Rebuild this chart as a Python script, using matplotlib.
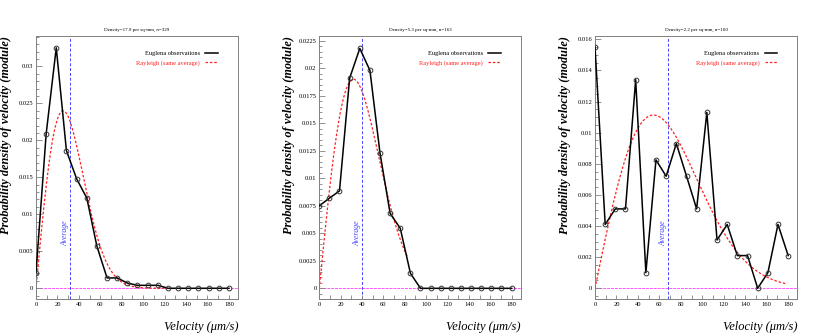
import numpy as np
import matplotlib
matplotlib.use("Agg")
import matplotlib.pyplot as plt
from matplotlib.lines import Line2D
from matplotlib.ticker import MultipleLocator, FuncFormatter
import matplotlib.transforms as mtransforms

# ---- data ----
velocity = [0, 9.5, 18.9, 28.4, 37.9, 47.4, 56.8, 66.3, 75.8, 85.3,
            94.7, 104.2, 113.7, 123.2, 132.6, 142.1, 151.6, 161.1, 170.5, 180]

obs1 = [0.0021, 0.0209, 0.0325, 0.0186, 0.0148, 0.0122, 0.0057, 0.0014, 0.0014, 0.0007,
        0.0004, 0.0004, 0.0004, 0, 0, 0, 0, 0, 0, 0]
obs2 = [0.0075, 0.0082, 0.00885, 0.0191, 0.0218, 0.0198, 0.0123, 0.0068, 0.00545, 0.00136,
        0, 0, 0, 0, 0, 0, 0, 0, 0, 0]
obs3 = [0.0155, 0.0041, 0.0051, 0.0051, 0.0134, 0.0010, 0.00825, 0.0072, 0.0093, 0.0072,
        0.0051, 0.0113, 0.0031, 0.0041, 0.0021, 0.0021, 0.0, 0.0010, 0.0041, 0.0021]

averages = [31.7, 40.0, 68.3]
curve_end = [120, 83, 178]
titles = ["Density=17.9 per sq-mm, n=329",
          "Density=5.3 per sq-mm, n=163",
          "Density=2.2 per sq-mm, n=100"]
y_limits = [(-0.00145, 0.0341), (-0.00097, 0.02293), (-0.00069, 0.01621)]
y_major = [0.005, 0.0025, 0.002]
y_minor = [0.001, 0.0005, 0.0005]

observations = [obs1, obs2, obs3]

# ---- layout ----
fig = plt.figure(figsize=(8.17, 3.35), dpi=100)
W, H = 817, 335
axes_px = [(36, 238), (319.3, 520.7), (595, 797.3)]
top_px, bot_px = 36, 299
ylabel_x = [6, 289, 565]

serif = ["Liberation Serif", "DejaVu Serif"]
frame_col = "#808080"


def fmt(v, pos):
    if abs(v) < 1e-12:
        return "0"
    s = ("%.4f" % v).rstrip("0").rstrip(".")
    return s


for i in range(3):
    l, r = axes_px[i]
    ax = fig.add_axes([l / W, (H - bot_px) / H, (r - l) / W, (bot_px - top_px) / H])
    x = velocity
    y = observations[i]
    avg = averages[i]

    # Rayleigh curve with same average
    sigma = avg / np.sqrt(np.pi / 2)
    xr = np.linspace(0, curve_end[i], 300)
    yr = xr / sigma**2 * np.exp(-xr**2 / (2 * sigma**2))

    ax.axhline(0, color="#ff55ff", lw=0.7, ls=(0, (3, 1)), zorder=1)
    ax.axvline(avg, color="#4444ff", lw=0.7, ls=(0, (3, 2)), zorder=1)
    ax.plot(xr, yr, color="#ff2020", lw=0.9, ls=(0, (2, 1.5)), zorder=2)
    ax.plot(x, y, color="black", lw=1.1, marker="o", ms=3.4, mfc="none",
            mec="#333333", mew=0.7, zorder=3)

    ax.set_xlim(0, 188.5)
    ax.set_ylim(*y_limits[i])

    ax.xaxis.set_major_locator(MultipleLocator(20))
    ax.xaxis.set_minor_locator(MultipleLocator(10))
    ax.yaxis.set_major_locator(MultipleLocator(y_major[i]))
    ax.yaxis.set_minor_locator(MultipleLocator(y_minor[i]))
    ax.yaxis.set_major_formatter(FuncFormatter(fmt))
    ax.tick_params(which="both", direction="in", top=False, right=False,
                   color=frame_col, width=0.6, labelsize=4.7, pad=2)
    ax.tick_params(which="major", length=4.5)
    ax.tick_params(which="minor", length=2.5)
    ax.tick_params(axis="x", which="both", length=3)
    for lab in ax.get_xticklabels() + ax.get_yticklabels():
        lab.set_family(serif)
    for sp in ax.spines.values():
        sp.set_color(frame_col)
        sp.set_linewidth(0.7)

    ax.set_title(titles[i], fontsize=3.6, family=serif, pad=4)

    # Average text
    trans = mtransforms.blended_transform_factory(ax.transData, ax.transAxes)
    ax.text(avg - 0.8, 0.25, "Average", rotation=90, color="#4444ff",
            fontsize=5.6, family=serif, style="italic", ha="right", va="center",
            transform=trans)

    # legend
    handles = [Line2D([], [], color="black", lw=1.1),
               Line2D([], [], color="#ff2020", lw=0.9, ls=(0, (2, 1.5)))]
    leg = ax.legend(handles, ["Euglena observations", "Rayleigh (same average)"],
                    loc="upper right", bbox_to_anchor=(0.93, 0.965),
                    frameon=False, markerfirst=False, handlelength=2.0,
                    handletextpad=0.8, labelspacing=0.6,
                    prop={"family": serif, "size": 4.6})
    for txt, c in zip(leg.get_texts(), ["black", "#ff2020"]):
        txt.set_color(c)

    # axis labels
    fig.text(ylabel_x[i] / W, (H - 135) / H, "Probability density of velocity (module)",
             rotation=90, fontsize=8.8, family=serif, weight="bold", style="italic",
             ha="center", va="center")
    fig.text(r / W, (H - 327) / H, "Velocity (\u03bcm/s)", fontsize=9,
             family=serif, style="italic", ha="right", va="center")

fig.savefig("out.png", dpi=100)
